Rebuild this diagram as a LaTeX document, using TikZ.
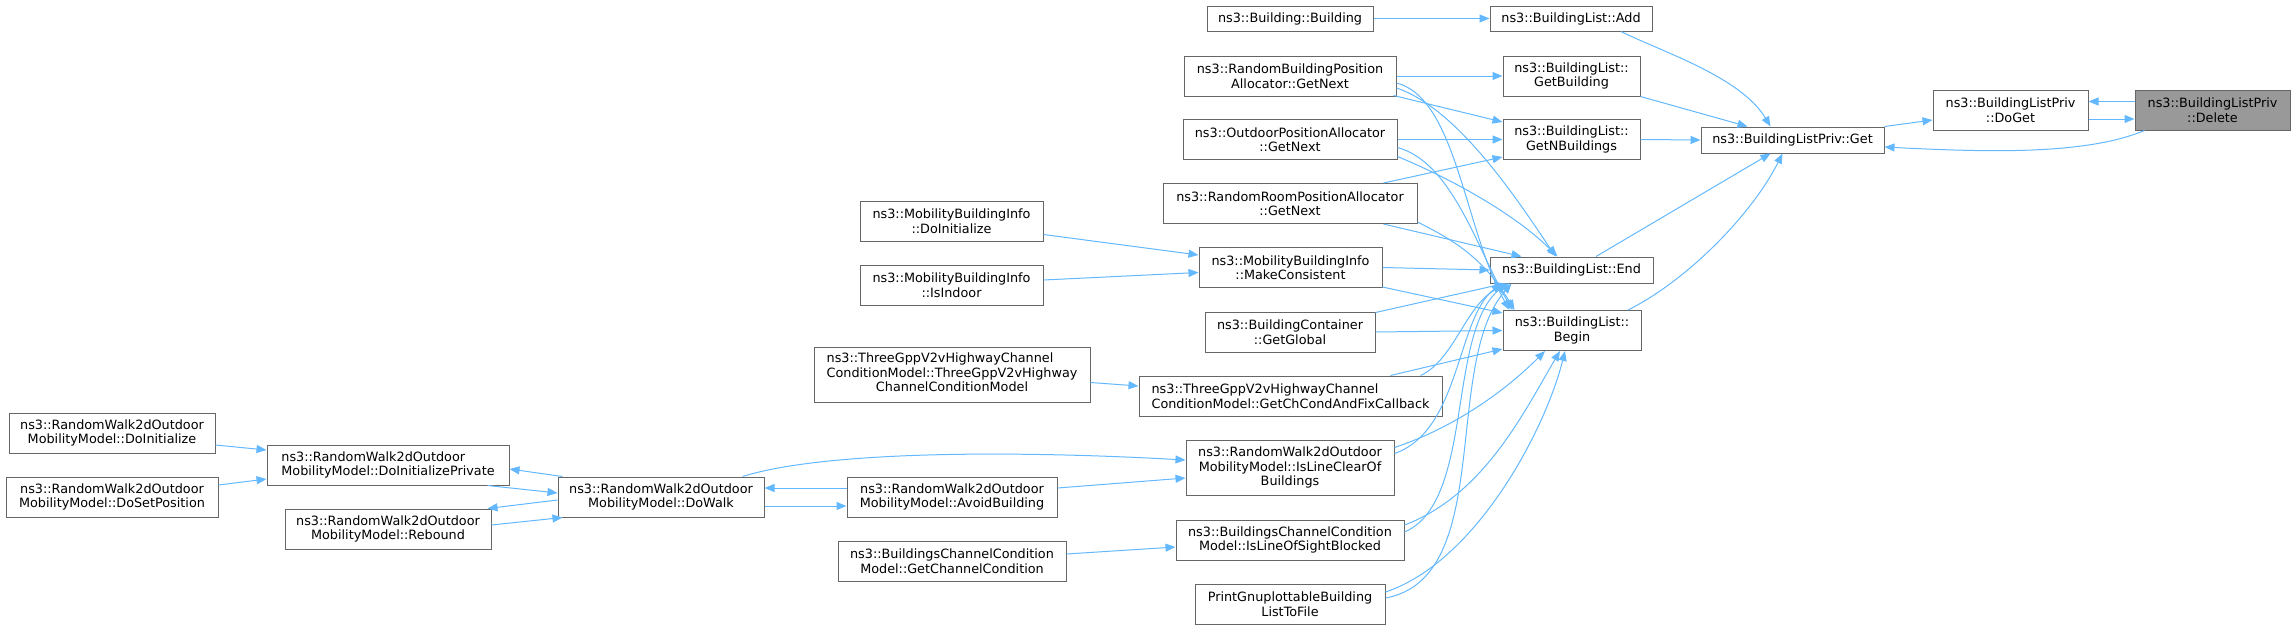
\documentclass[tikz,border=0pt]{standalone}
\usepackage{fontspec}
\setmainfont{DejaVu Sans}
\usetikzlibrary{arrows.meta}

\definecolor{edgeblue}{HTML}{63B8FF}
\definecolor{boxline}{HTML}{666666}
\definecolor{curfill}{HTML}{999999}

\tikzset{
  fn/.style={draw=boxline, line width=1pt, fill=white, inner xsep=3pt, inner ysep=0pt,
    align=center, minimum height=26pt, font=\fontsize{12.8}{14.5}\selectfont},
  two/.style={minimum height=40pt},
  three/.style={minimum height=55pt},
  call/.style={->, >={Triangle[length=10pt,width=8pt]}, draw=edgeblue, line width=1pt}
}

\begin{document}
\begin{tikzpicture}[x=1pt,y=-1pt]
                    \useasboundingbox (0,0) rectangle (2296,629);

                    \node[fn,two,fill=curfill,minimum width=155pt] at (2212.5,110) (delete) {ns3::BuildingListPriv\\::Delete};
                    \node[fn,two,minimum width=155pt] at (2010.5,110) (doget) {ns3::BuildingListPriv\\::DoGet};
                    \node[fn,minimum width=183pt] at (1792.5,140) (get) {ns3::BuildingListPriv::Get};
                    \node[fn,minimum width=162pt,minimum height=25pt] at (1571,18.5) (add) {ns3::BuildingList::Add};
                    \node[fn,two,minimum width=137pt] at (1571.5,76) (getbuilding) {ns3::BuildingList::\\GetBuilding};
                    \node[fn,two,minimum width=137pt] at (1571.5,139.5) (getnbuildings) {ns3::BuildingList::\\GetNBuildings};
                    \node[fn,minimum width=163pt] at (1571.5,270) (blend) {ns3::BuildingList::End};
                    \node[fn,two,minimum width=138pt] at (1572,330.5) (blbegin) {ns3::BuildingList::\\Begin};

                    \node[fn,minimum width=166pt,minimum height=25pt] at (1290,18.5) (building) {ns3::Building::Building};
                    \node[fn,two,minimum width=212pt] at (1290,76) (rbpa) {ns3::RandomBuildingPosition\\Allocator::GetNext};
                    \node[fn,two,minimum width=214pt] at (1290,139.5) (outdoor) {ns3::OutdoorPositionAllocator\\::GetNext};
                    \node[fn,two,minimum width=254pt] at (1290,203.5) (randomroom) {ns3::RandomRoomPositionAllocator\\::GetNext};
                    \node[fn,two,minimum width=183pt] at (1290.5,267.5) (makeconsistent) {ns3::MobilityBuildingInfo\\::MakeConsistent};
                    \node[fn,two,minimum width=170pt] at (1290,332) (getglobal) {ns3::BuildingContainer\\::GetGlobal};
                    \node[fn,two,align=left,minimum width=303pt] at (1290.5,396) (getchcond) {ns3::ThreeGppV2vHighwayChannel\\ConditionModel::GetChCondAndFixCallback};
                    \node[fn,three,minimum width=208pt] at (1290,467.5) (islineclear) {ns3::RandomWalk2dOutdoor\\MobilityModel::IsLineClearOf\\Buildings};
                    \node[fn,two,minimum width=228pt] at (1290,540) (losblocked) {ns3::BuildingsChannelCondition\\Model::IsLineOfSightBlocked};
                    \node[fn,two,minimum width=190pt] at (1290,604) (printgnu) {PrintGnuplottableBuilding\\ListToFile};

                    \node[fn,two,minimum width=183pt] at (951.5,221) (mbidoinit) {ns3::MobilityBuildingInfo\\::DoInitialize};
                    \node[fn,two,minimum width=183pt] at (951.5,285) (mbiisindoor) {ns3::MobilityBuildingInfo\\::IsIndoor};
                    \node[fn,three,minimum width=276pt] at (952,374.5) (hwctor) {\begin{tabular}{@{}c@{}}\begin{tabular}{@{}l@{}}ns3::ThreeGppV2vHighwayChannel\\ConditionModel::ThreeGppV2vHighway\end{tabular}\\ChannelConditionModel\end{tabular}};
                    \node[fn,two,minimum width=210pt] at (952,497) (avoid) {ns3::RandomWalk2dOutdoor\\MobilityModel::AvoidBuilding};
                    \node[fn,two,minimum width=228pt] at (952,561) (getchcondition) {ns3::BuildingsChannelCondition\\Model::GetChannelCondition};

                    \node[fn,two,minimum width=206pt] at (661,497) (dowalk) {ns3::RandomWalk2dOutdoor\\MobilityModel::DoWalk};
                    \node[fn,two,align=left,minimum width=242pt] at (388,465) (doinitpriv) {ns3::RandomWalk2dOutdoor\\MobilityModel::DoInitializePrivate};
                    \node[fn,two,minimum width=206pt] at (388,529) (rebound) {ns3::RandomWalk2dOutdoor\\MobilityModel::Rebound};
                    \node[fn,two,minimum width=206pt] at (112,433) (rwdoinit) {ns3::RandomWalk2dOutdoor\\MobilityModel::DoInitialize};
                    \node[fn,two,minimum width=212pt] at (112,497) (rwsetpos) {ns3::RandomWalk2dOutdoor\\MobilityModel::DoSetPosition};

                    % right part
                    \draw[call] ([shift={(0,-8.5)}]delete.west) -- ([shift={(0,-8.5)}]doget.east);
                    \draw[call] ([shift={(0,9)}]doget.east) -- ([shift={(0,9)}]delete.west);
                    \draw[call] ([shift={(10,0)}]delete.south west) .. controls +(-60,25) and +(100,5) .. ([shift={(0,7)}]get.east);
                    \draw[call] (get.north east) -- ([shift={(0,10)}]doget.west);
                    \draw[call] ([shift={(50,0)}]add.south) .. controls +(40,20) and +(-30,-50) .. ([shift={(-22,0)}]get.north);
                    \draw[call] (getbuilding.south east) -- ([shift={(-45,0)}]get.north);
                    \draw[call] (getnbuildings.east) -- (get.west);
                    \draw[call] ([shift={(24.5,0)}]blend.north) -- ([shift={(-22,0)}]get.south);
                    \draw[call] ([shift={(56,0)}]blbegin.north) .. controls +(60,-30) and +(-30,60) .. ([shift={(-10,0)}]get.south);

                    % callers of the list
                    \draw[call] (building.east) -- (add.west);
                    \draw[call] (rbpa.east) -- (getbuilding.west);
                    \draw[call] ([shift={(-3,-1)}]rbpa.south east) -- ([shift={(0,3)}]getnbuildings.north west);
                    \draw[call] ([shift={(0,7)}]rbpa.east) .. controls +(60,15) and +(-45,-80) .. ([shift={(7,0)}]blbegin.north west);
                    \draw[call] ([shift={(0,12)}]rbpa.east) .. controls +(60,20) and +(-40,-60) .. ([shift={(-16,0)}]blend.north);
                    \draw[call] (outdoor.east) -- (getnbuildings.west);
                    \draw[call] ([shift={(0,8)}]outdoor.east) .. controls +(55,15) and +(-35,-60) .. ([shift={(10,0)}]blbegin.north west);
                    \draw[call] ([shift={(0,17)}]outdoor.east) .. controls +(60,25) and +(-40,-40) .. ([shift={(-14,0)}]blend.north);
                    \draw[call] ([shift={(-34,0)}]randomroom.north east) -- ([shift={(0,-3)}]getnbuildings.south west);
                    \draw[call] ([shift={(-34,0)}]randomroom.south east) -- ([shift={(-50,0)}]blend.north);
                    \draw[call] ([shift={(0,-2)}]randomroom.south east) .. controls +(40,20) and +(-30,-50) .. ([shift={(12,0)}]blbegin.north west);
                    \draw[call] (makeconsistent.east) -- (blend.west);
                    \draw[call] ([shift={(0,-1)}]makeconsistent.south east) -- ([shift={(0,3)}]blbegin.north west);
                    \draw[call] ([shift={(0,-7)}]mbidoinit.south east) -- ([shift={(0,8)}]makeconsistent.north west);
                    \draw[call] ([shift={(0,-5)}]mbiisindoor.east) -- ([shift={(0,5)}]makeconsistent.west);
                    \draw[call] ([shift={(0,1)}]getglobal.north east) -- ([shift={(15,0)}]blend.south west);
                    \draw[call] (getglobal.east) -- (blbegin.west);
                    \draw[call] ([shift={(-52,0)}]getchcond.north east) -- ([shift={(0,-2)}]blbegin.south west);
                    \draw[call] ([shift={(-22,0)}]getchcond.north east) .. controls +(35,-16) and +(-43,17) .. ([shift={(20,0)}]blend.south west);
                    \draw[call] ([shift={(0,8)}]hwctor.east) -- ([shift={(0,-10)}]getchcond.west);
                    \draw[call] ([shift={(0,-20)}]islineclear.east) .. controls +(60,-20) and +(-40,40) .. ([shift={(-27,0)}]blbegin.south);
                    \draw[call] ([shift={(0,-14)}]islineclear.east) .. controls +(66,-23) and +(-45,35) .. ([shift={(-70,0)}]blend.south);
                    \draw[call] ([shift={(0,-15)}]losblocked.east) .. controls +(80,-30) and +(-35,59) .. ([shift={(-12,0)}]blbegin.south);
                    \draw[call] ([shift={(0,-8)}]losblocked.east) .. controls +(70,-30) and +(-60,50) .. ([shift={(-65,0)}]blend.south);
                    \draw[call] ([shift={(0,-12)}]printgnu.east) .. controls +(90,-30) and +(-20,80) .. ([shift={(-7,0)}]blbegin.south);
                    \draw[call] ([shift={(0,-6)}]printgnu.east) .. controls +(110,-20) and +(-70,80) .. ([shift={(-60,0)}]blend.south);
                    \draw[call] ([shift={(0,-7)}]getchcondition.east) -- ([shift={(0,7)}]losblocked.west);

                    % random walk
                    \draw[call] ([shift={(0,-9)}]avoid.east) -- ([shift={(0,10.5)}]islineclear.west);
                    \draw[call] ([shift={(-22,0)}]dowalk.north east) .. controls +(80,-25) and +(-180,-10) .. ([shift={(0,-7.5)}]islineclear.west);
                    \draw[call] ([shift={(0,-9)}]avoid.west) -- ([shift={(0,-9)}]dowalk.east);
                    \draw[call] ([shift={(0,9)}]dowalk.east) -- ([shift={(0,9)}]avoid.west);
                    \draw[call] ([shift={(-22,0)}]doinitpriv.south east) -- ([shift={(0,-4)}]dowalk.west);
                    \draw[call] ([shift={(5,0)}]dowalk.north west) -- ([shift={(0,4)}]doinitpriv.east);
                    \draw[call] ([shift={(0,3)}]dowalk.west) -- ([shift={(-4,0)}]rebound.north east);
                    \draw[call] ([shift={(0,-4)}]rebound.east) -- ([shift={(5,0)}]dowalk.south west);
                    \draw[call] ([shift={(0,12)}]rwdoinit.east) -- ([shift={(0,-15)}]doinitpriv.west);
                    \draw[call] ([shift={(0,-12)}]rwsetpos.east) -- ([shift={(0,14)}]doinitpriv.west);
                \end{tikzpicture}
\end{document}
